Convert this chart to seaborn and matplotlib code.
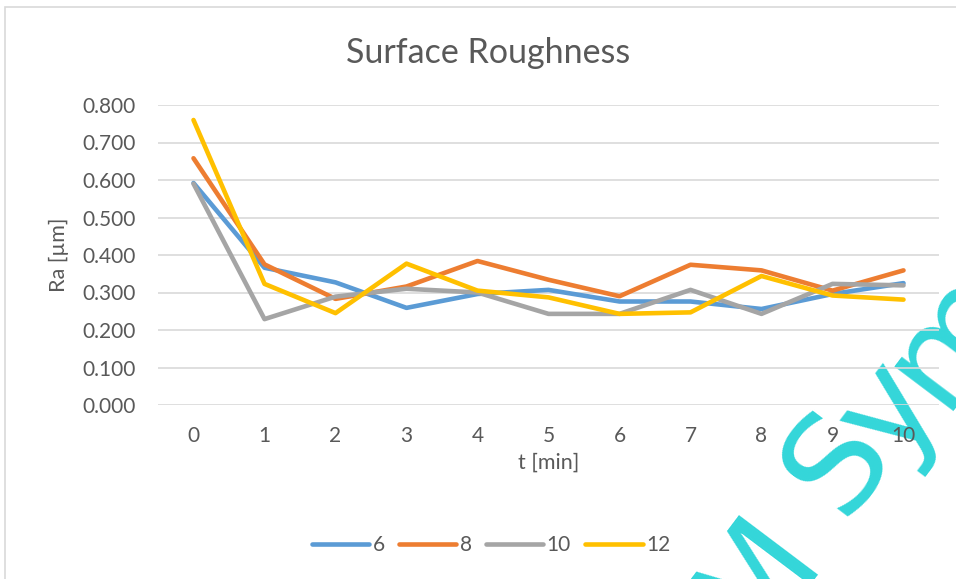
import matplotlib
matplotlib.use("Agg")
import matplotlib.pyplot as plt
from matplotlib.lines import Line2D
from matplotlib.patches import Rectangle
import numpy as np
import pandas as pd
import seaborn as sns

# ---- data ----
t_min = [0, 1, 2, 3, 4, 5, 6, 7, 8, 9, 10]
series_names = ["6", "8", "10", "12"]
ra_6 = [0.592, 0.366, 0.327, 0.259, 0.296, 0.307, 0.276, 0.276, 0.256, 0.296, 0.325]
ra_8 = [0.658, 0.375, 0.283, 0.316, 0.384, 0.334, 0.290, 0.374, 0.359, 0.305, 0.359]
ra_10 = [0.590, 0.229, 0.289, 0.310, 0.300, 0.243, 0.243, 0.307, 0.243, 0.323, 0.319]
ra_12 = [0.760, 0.323, 0.245, 0.377, 0.305, 0.287, 0.243, 0.247, 0.344, 0.292, 0.281]
y_ticks = [0.0, 0.1, 0.2, 0.3, 0.4, 0.5, 0.6, 0.7, 0.8]
watermark_letters = ["M", "S", "y", "m"]

colors = ["#5B9BD5", "#ED7D31", "#A5A5A5", "#FFC000"]
text_color = "#595959"
grid_color = "#D9D9D9"

df = pd.DataFrame({
    "t": t_min * 4,
    "Ra": ra_6 + ra_8 + ra_10 + ra_12,
    "series": sum([[s] * len(t_min) for s in series_names], []),
})

sns.set_theme(style="white")
plt.rcParams["font.family"] = ["Lato", "DejaVu Sans"]

W, H = 956, 579
fig = plt.figure(figsize=(W / 100, H / 100), dpi=100)
fig.patch.set_facecolor("white")

def fx(px):
    return px / W

def fy(py):
    return 1 - py / H

# chart border
fig.patches.append(Rectangle((fx(4.5), fy(1000)), fx(1200), fy(7) - fy(1000),
                             transform=fig.transFigure, fill=False,
                             edgecolor=grid_color, linewidth=1.2, zorder=-5))

ax = fig.add_axes([fx(158), fy(405), fx(939) - fx(158), fy(105) - fy(405)])
ax.patch.set_visible(False)

sns.lineplot(data=df, x="t", y="Ra", hue="series", hue_order=series_names,
             palette=colors, linewidth=3.3, ax=ax, legend=False,
             solid_capstyle="round", solid_joinstyle="round")

ax.set_xlim(-0.5, 10.5)
ax.set_ylim(0, 0.8)
ax.set_yticks(y_ticks)
ax.set_yticklabels([f"{v:.3f}" for v in y_ticks])
ax.set_xticks(t_min)
ax.set_xticklabels([str(v) for v in t_min])
ax.yaxis.grid(True, color=grid_color, linewidth=1.2)
ax.set_axisbelow(True)
for s in ax.spines.values():
    s.set_visible(False)
ax.tick_params(axis="both", length=0, labelsize=15, colors=text_color)
ax.tick_params(axis="x", pad=15)
ax.tick_params(axis="y", pad=16)
ax.set_xlabel("")
ax.set_ylabel("")

fig.text(fx(488), fy(63), "Surface Roughness", ha="center", va="baseline",
         fontsize=24.5, color=text_color)
fig.text(fx(548.5), fy(463), "t [min]", ha="center", va="center",
         fontsize=15.5, color=text_color)
fig.text(fx(59), fy(255), "Ra [µm]", ha="center", va="center", rotation=90,
         fontsize=15.5, color=text_color)

handles = [Line2D([0], [0], color=c, linewidth=3.3, solid_capstyle="round")
           for c in colors]
fig.legend(handles, series_names, loc="center", ncol=4,
           bbox_to_anchor=(fx(491), fy(545)), frameon=False,
           fontsize=15, labelcolor=text_color, handlelength=2.75,
           handletextpad=0.15, columnspacing=0.7)

# watermark
wm_color = "#33D6D9"
for ch, (px, py) in zip(watermark_letters,
                        [(756, 578), (838, 462), (890, 410), (952, 335)]):
    fig.text(fx(px), fy(py), ch, ha="center", va="center", rotation=53,
             rotation_mode="anchor", fontsize=98, color=wm_color,
             family="DejaVu Sans", zorder=-1)

fig.savefig("out.png", dpi=100)
